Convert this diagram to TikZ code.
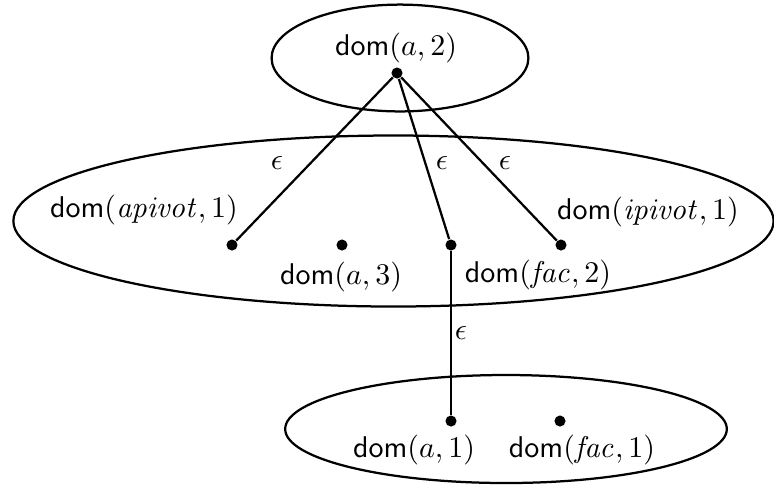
\documentclass[tikz,border=0pt]{standalone}
\usetikzlibrary{shapes.geometric}
\begin{document}
\begin{tikzpicture}[x=0.3333pt,y=-0.3333pt,
  dotn/.style={circle,fill=black,inner sep=0pt,minimum size=3.7pt},
  grp/.style={ellipse,draw,line width=0.75pt,inner sep=0pt},
  edg/.style={line width=0.75pt},
  lbl/.style={inner sep=0pt}]
\useasboundingbox (0,0) rectangle (774,485);
% groups
\node[grp,minimum width=85.6pt,minimum height=35.6pt] (G1) at (400,58) {};
\node[grp,minimum width=253.4pt,minimum height=57pt] (G2) at (393.5,221) {};
\node[grp,minimum width=147.2pt,minimum height=36pt] (G3) at (506,429) {};
% dots
\node[dotn] (t) at (397,73) {};
\node[dotn] (m1) at (232,245) {};
\node[dotn] (m2) at (342,245) {};
\node[dotn] (m3) at (451,245) {};
\node[dotn] (m4) at (561,245) {};
\node[dotn] (b1) at (451,421) {};
\node[dotn] (b2) at (560,421) {};
% labels
\node[lbl] (lt) at (396,48) {$\textsf{dom}(a,2)$};
\node[lbl] (l1) at (144,210) {$\textsf{dom}(\mathit{apivot},1)$};
\node[lbl] (l2) at (341,277) {$\textsf{dom}(a,3)$};
\node[lbl] (l3) at (538,275) {$\textsf{dom}(\mathit{fac},2)$};
\node[lbl] (l4) at (648,212) {$\textsf{dom}(\mathit{ipivot},1)$};
\node[lbl] (l5) at (414,450) {$\textsf{dom}(a,1)$};
\node[lbl] (l6) at (582,450) {$\textsf{dom}(\mathit{fac},1)$};
% edges
\draw[edg] (t) -- (m1);
\draw[edg] (t) -- (m3);
\draw[edg] (t) -- (m4);
\draw[edg] (m3) -- (b1);
% epsilon labels
\node[lbl] (e1) at (277,163) {$\epsilon$};
\node[lbl] (e2) at (442,163) {$\epsilon$};
\node[lbl] (e3) at (505,163) {$\epsilon$};
\node[lbl] (e4) at (461,333) {$\epsilon$};
\end{tikzpicture}
\end{document}
